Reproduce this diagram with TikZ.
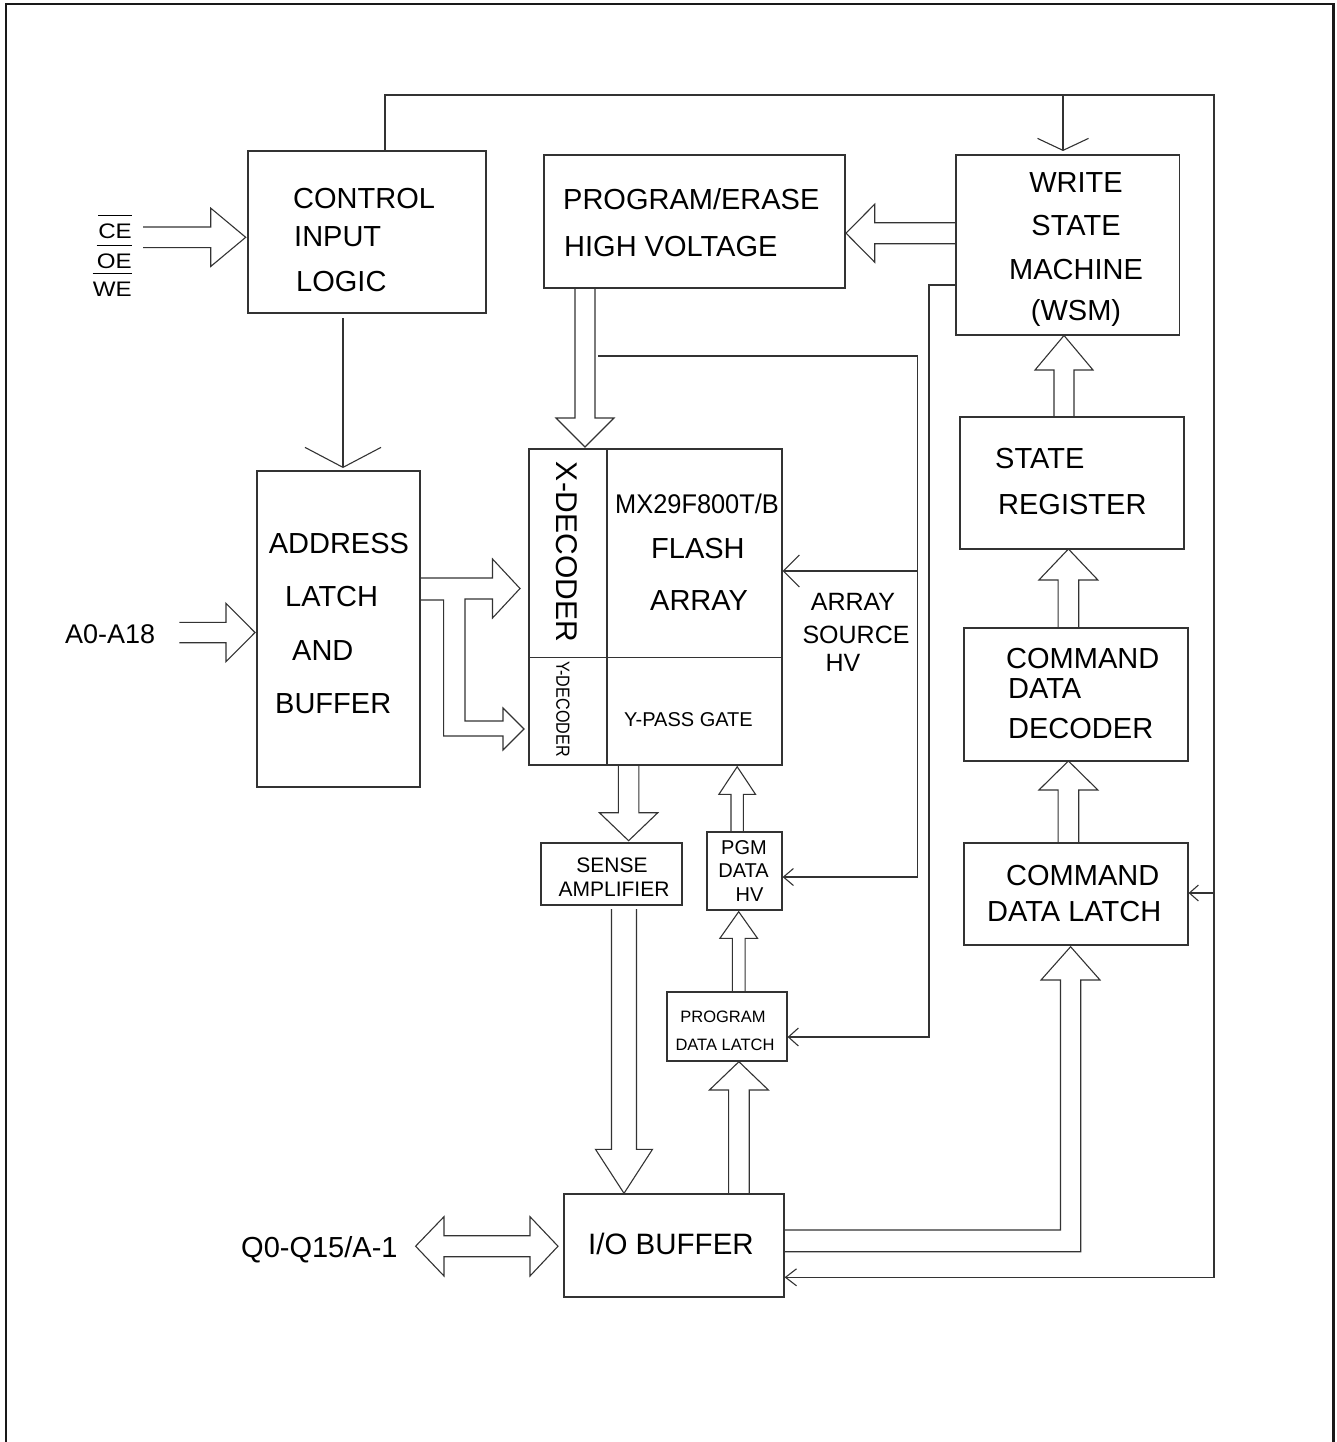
\documentclass[tikz,border=0pt]{standalone}
\usepackage{fontspec}
\setmainfont{Liberation Sans}
\usetikzlibrary{arrows.meta}
\newcommand\fsz[1]{\fontsize{#1}{#1}\selectfont}
% vertical block arrow: x, y-base, y-tip, half body, half head, y-neck
\newcommand\barV[6]{\draw[blk] ({#1-#4},#2) -- ({#1-#4},#6) -- ({#1-#5},#6) -- (#1,#3) -- ({#1+#5},#6) -- ({#1+#4},#6) -- ({#1+#4},#2);}
% horizontal block arrow: y, x-base, x-tip, half body, half head, x-neck
\newcommand\barH[6]{\draw[blk] (#2,{#1-#4}) -- (#6,{#1-#4}) -- (#6,{#1-#5}) -- (#3,#1) -- (#6,{#1+#5}) -- (#6,{#1+#4}) -- (#2,{#1+#4});}
\begin{document}
\begin{tikzpicture}[x=1pt,y=-1pt,
  box/.style={draw=black!80,line width=1.2pt,inner sep=0pt},
  lbl/.style={inner sep=0pt,anchor=base west,font=\fsz{29}},
  lblc/.style={inner sep=0pt,anchor=base,font=\fsz{29}},
  blk/.style={draw=black!80,line width=1.1pt,line join=miter},
  wire/.style={draw=black!80,line width=1.1pt}]
\useasboundingbox (0,0) rectangle (1336,1442);
\draw[line width=2.3pt,black!90] (6,1442) -- (6,3.7) -- (1333.5,3.7) -- (1333.5,1442);

% boxes
\node[box,minimum width=238pt,minimum height=162pt] (cil) at (367,232) {};
\node[box,minimum width=163pt,minimum height=316pt] (addr) at (338.5,629) {};
\node[box,minimum width=253pt,minimum height=316pt] (flash) at (655.5,607) {};
\node[box,minimum width=301pt,minimum height=133pt] (pe) at (694.5,221.5) {};
\node[box,minimum width=223.5pt,minimum height=180pt] (wsm) at (1067.75,245) {};
\node[box,minimum width=224pt,minimum height=132pt] (sr) at (1072,483) {};
\node[box,minimum width=224pt,minimum height=133pt] (cdd) at (1076,694.5) {};
\node[box,minimum width=224pt,minimum height=102pt] (cdl) at (1076,894) {};
\node[box,minimum width=141pt,minimum height=62pt] (sense) at (611.5,874) {};
\node[box,minimum width=75pt,minimum height=78pt] (pgmhv) at (744.5,871) {};
\node[box,minimum width=120pt,minimum height=69pt] (pdl) at (727,1026.5) {};
\node[box,minimum width=220pt,minimum height=103pt] (io) at (674,1245.5) {};

% flash array dividers
\coordinate (xd) at (607,0);
\coordinate (yd) at (0,657.7);
\draw[wire] (flash.north -| xd) -- (flash.south -| xd);
\draw[wire] (flash.west |- yd) -- (flash.east |- yd);

% texts
\node[lbl] (l1) at (293,208) {CONTROL};
\node[lbl] (l2) at (294,246) {INPUT};
\node[lbl] (l3) at (296,291) {LOGIC};
\node[lbl] (l4) at (563,210) {PROGRAM/ERASE};
\node[lbl] (l5) at (564,256.7) {HIGH VOLTAGE};
\node[lblc] (l6) at (1076,192.7) {WRITE};
\node[lblc] (l7) at (1076,235.7) {STATE};
\node[lblc] (l8) at (1076,279) {MACHINE};
\node[lblc] (l9) at (1076,320) {(WSM)};
\node[lbl] (l10) at (995,468) {STATE};
\node[lbl] (l11) at (998,514) {REGISTER};
\node[lbl] (l12) at (268.6,553) {ADDRESS};
\node[lbl] (l13) at (285,606.7) {LATCH};
\node[lbl] (l14) at (292,660.7) {AND};
\node[lbl] (l15) at (275,713) {BUFFER};
\node[lbl,font=\fsz{27}] (l16) at (615,513) {\scalebox{0.94}[1]{MX29F800T/B}};
\node[lbl] (l17) at (651,558) {FLASH};
\node[lbl] (l18) at (650,610) {ARRAY};
\node[lbl,font=\fsz{20}] (l19) at (624,726) {Y-PASS GATE};
\node[rotate=-90,inner sep=0pt,font=\fsz{30}] (l20) at (567,552) {X-DECODER};
\node[rotate=-90,inner sep=0pt,font=\fsz{19}] (l21) at (563,709) {\scalebox{0.85}[1]{Y-DECODER}};
\node[lblc,font=\fsz{25}] (l22) at (853,610) {ARRAY};
\node[lblc,font=\fsz{25}] (l23) at (856,643.3) {SOURCE};
\node[lblc,font=\fsz{25}] (l24) at (843,671.7) {HV};
\node[lbl] (l25) at (1006,668.3) {COMMAND};
\node[lbl] (l26) at (1008,698) {DATA};
\node[lbl] (l27) at (1008,738) {DECODER};
\node[lbl] (l28) at (1006,885) {COMMAND};
\node[lbl] (l29) at (987,921.7) {DATA LATCH};
\node[lblc,font=\fsz{21}] (l30) at (612,872.7) {SENSE};
\node[lblc,font=\fsz{21}] (l31) at (614,896.7) {AMPLIFIER};
\node[lblc,font=\fsz{20}] (l32) at (744,854) {PGM};
\node[lblc,font=\fsz{20}] (l33) at (743.5,877.7) {DATA};
\node[lblc,font=\fsz{20}] (l34) at (749.5,901.7) {HV};
\node[lblc,font=\fsz{16.5}] (l35) at (723,1022.7) {PROGRAM};
\node[lblc,font=\fsz{16.5}] (l36) at (725,1050) {DATA LATCH};
\node[lbl,font=\fsz{29.5}] (l37) at (588,1254) {I/O BUFFER};
\node[lbl] (l38) at (241,1257.5) {Q0-Q15/A-1};
\node[lbl,font=\fsz{27}] (l39) at (65,643) {A0-A18};
\node[inner sep=0pt,anchor=base east,font=\fsz{21}] (ce) at (132,238) {\scalebox{1.15}[1]{CE}};
\node[inner sep=0pt,anchor=base east,font=\fsz{21}] (oe) at (132,268.3) {\scalebox{1.15}[1]{OE}};
\node[inner sep=0pt,anchor=base east,font=\fsz{21}] (we) at (132,296) {\scalebox{1.15}[1]{WE}};
\foreach \n in {ce,oe,we}
  \draw[line width=1.1pt] ([yshift=8pt]\n.north west) -- ([yshift=8pt]\n.north east);

% block arrows
\barH{237.3}{143}{245.7}{10.3}{29.2}{210.7}
\barH{632.5}{179.3}{255}{10.2}{29.2}{226}
\barV{585}{288}{447}{10}{29}{418}
\barH{233.2}{956}{846}{10.5}{29}{874.7}
\barV{1064}{417}{335.5}{10}{29}{370}
\barV{1068.4}{628}{549}{10.3}{29.5}{580}
\barV{1068.4}{843}{761}{10.3}{29.5}{790}
\barV{628.6}{765}{840.7}{10.3}{29.2}{812.7}
\barV{624}{909}{1193.3}{12.5}{28.5}{1149.3}
\barV{737.2}{832}{766.7}{6.2}{18.3}{794.3}
\barV{738.7}{992}{911.7}{6.4}{18.8}{938.3}
\barV{738.9}{1194}{1061.7}{10.3}{29.5}{1090}
% I/O buffer -> command data latch
\draw[blk] (784,1230) -- (1060.5,1230) -- (1060.5,980) -- (1041,980) -- (1070.6,946.7)
  -- (1100,980) -- (1080.7,980) -- (1080.7,1251.7) -- (784,1251.7);
% double arrow Q0-Q15
\draw[blk] (444,1235.7) -- (444,1216.7) -- (415.6,1246.2) -- (444,1276) -- (444,1256.7)
  -- (530,1256.7) -- (530,1276) -- (558,1246.2) -- (530,1216.7) -- (530,1235.7) -- cycle;
% address latch -> X / Y decoders
\draw[blk] (420,578) -- (492.5,578) -- (492.5,559) -- (520,588.5) -- (492.5,618) -- (492.5,599)
  -- (465,599) -- (465,721) -- (503,721) -- (503,708) -- (524,729) -- (503,750) -- (503,736)
  -- (443.6,736) -- (443.6,600) -- (420,600);

% thin connectors
\coordinate (t1) at (385,95);
\coordinate (t2) at (1214,95);
\coordinate (t3) at (1214,1277.3);
\coordinate (wt) at (1063,95);
\coordinate (wtip) at (1063,151);
\coordinate (b1) at (1214,893);
\coordinate (c0) at (343,318);
\coordinate (c1) at (343,468);
\coordinate (as0) at (598,356);
\coordinate (as1) at (917.7,356);
\coordinate (as2) at (917.7,877);
\coordinate (as3) at (917.7,571);
\coordinate (w0) at (929,285);
\coordinate (w1) at (929,1037);

\draw[wire,-{Straight Barb[length=11pt,width=17pt]}] (cil.north -| t1) -- (t1) -- (t2) -- (t3) -- (t3 -| io.east);
\draw[wire,-{Straight Barb[length=12pt,width=51pt]}] (wt) -- (wtip);
\draw[wire,-{Straight Barb[length=9pt,width=16pt]}] (b1) -- (b1 -| cdl.east);
\draw[wire,-{Straight Barb[length=20pt,width=76pt]}] (c0) -- (c1);
\draw[wire,-{Straight Barb[length=10pt,width=17pt]}] (as0) -- (as1) -- (as2) -- (as2 -| pgmhv.east);
\draw[wire,-{Straight Barb[length=16pt,width=32pt]}] (as3) -- (as3 -| flash.east);
\draw[wire,-{Straight Barb[length=10pt,width=18pt]}] (wsm.west |- w0) -- (w0) -- (w1) -- (w1 -| pdl.east);
\end{tikzpicture}
\end{document}
